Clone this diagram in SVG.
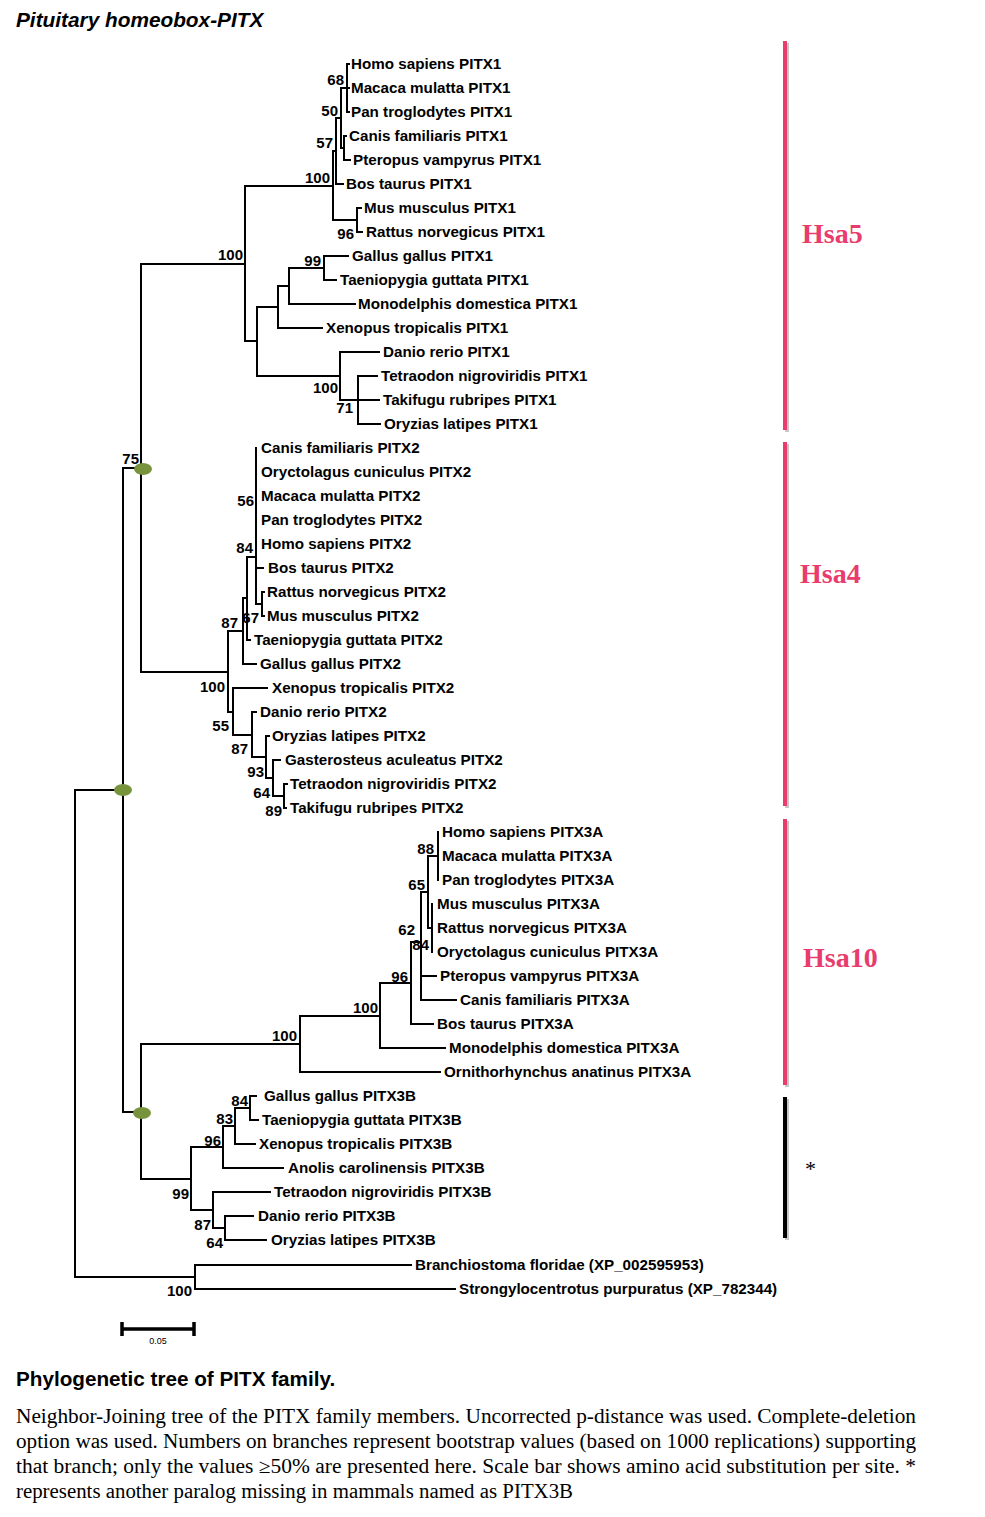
<svg xmlns="http://www.w3.org/2000/svg" width="985" height="1517" viewBox="0 0 985 1517">
<style>
.leaf{font-family:"Liberation Sans",Arial,sans-serif;font-weight:bold;font-size:15.2px;fill:#000}
.bs{font-family:"Liberation Sans",Arial,sans-serif;font-weight:bold;font-size:15px;fill:#000;text-anchor:end}
.br{fill:none;stroke:#000;stroke-width:2;stroke-linecap:square}
.sc{fill:none;stroke:#000;stroke-width:3.5}
.hsa{font-family:"Liberation Serif","Times New Roman",serif;font-weight:bold;font-size:28px;fill:#e83c6c}
.bar{fill:#e83c6c}
.shadow{fill:#c8c8c8}
.dot{fill:#77933c}
.cap{font-family:"Liberation Serif","Times New Roman",serif;font-size:20px;fill:#000}
</style>
<rect width="985" height="1517" fill="#fff"/>
<text x="16" y="27" font-family="Liberation Sans, Arial, sans-serif" font-weight="bold" font-style="italic" font-size="20.8">Pituitary homeobox-PITX</text>

<g id="connectors">
<path class="br" d="M347 64V112M347 64H349M347 88H349M347 112H349M341 88H347M344 136V160M344 136H346M344 160H350M341 148H344M341 88V148M336 118H341M336 118V184M336 184H343M333 151H336M333 151V220M333 220H357M357 208V232M357 208H361M357 232H362M245 186H333M324 256V280M324 256H348M324 280H336M289 268H324M289 268V304M289 304H355M278 286H289M278 286V328M278 328H322M257 307H278M358 376V424M358 376H377M358 400H379M358 424H380M340 400H358M340 352V400M340 352H379M257 376H340M257 307V376M245 341H257M245 186V341M141 264H245"/>
<path class="br" d="M256 448V604M256 568H263M256 604H262M262 592V616M262 592H264M262 616H264M247 557H256M247 557V640M247 640H250M243 598H247M243 598V664M243 664H256M228 631H243M228 631V712M284 784V808M284 784H287M284 808H286M273 796H284M273 760V796M273 760H280M266 778H273M266 736V778M266 736H269M252 757H266M252 712V757M252 712H256M233 735H252M233 688V735M233 688H267M228 712H233M141 672H228M141 264V672"/>
<path class="br" d="M123 468V1112M123 468H141M75 790H123M75 790V1277M75 1277H195M195 1265V1289M195 1265H411M195 1289H455M123 1112H141M141 1044V1179"/>
<path class="br" d="M438 832V880M428 856H438M428 856V928M428 928H432M432 904V952M421 892H428M421 892V1000M421 976H436M421 1000H456M411 942H421M411 942V1024M411 1024H433M380 983H411M380 983V1048M380 1048H445M300 1016H380M300 1016V1072M300 1072H440M141 1044H300"/>
<path class="br" d="M250 1096V1120M250 1096H256M250 1120H258M235 1108H250M235 1108V1144M235 1144H255M223 1126H235M223 1126V1168M223 1168H283M191 1147H223M191 1147V1210M225 1216V1240M225 1216H253M225 1240H266M213 1228H225M213 1192V1228M213 1192H270M191 1210H213M141 1179H191"/>
</g>

<g id="node-dots">
<ellipse class="dot" cx="143" cy="469" rx="9" ry="6"/>
<ellipse class="dot" cx="123" cy="790" rx="9" ry="6"/>
<ellipse class="dot" cx="142" cy="1113" rx="9" ry="6"/>
</g>

<g id="bootstrap">
<text class="bs" x="344" y="85">68</text>
<text class="bs" x="338" y="116">50</text>
<text class="bs" x="333" y="148">57</text>
<text class="bs" x="330" y="183">100</text>
<text class="bs" x="354" y="239">96</text>
<text class="bs" x="243" y="260">100</text>
<text class="bs" x="321" y="266">99</text>
<text class="bs" x="338" y="393">100</text>
<text class="bs" x="353" y="413">71</text>
<text class="bs" x="139" y="464">75</text>
<text class="bs" x="254" y="506">56</text>
<text class="bs" x="253" y="553">84</text>
<text class="bs" x="259" y="623">67</text>
<text class="bs" x="238" y="628">87</text>
<text class="bs" x="225" y="692">100</text>
<text class="bs" x="229" y="731">55</text>
<text class="bs" x="248" y="754">87</text>
<text class="bs" x="264" y="777">93</text>
<text class="bs" x="270" y="798">64</text>
<text class="bs" x="282" y="816">89</text>
<text class="bs" x="434" y="854">88</text>
<text class="bs" x="425" y="890">65</text>
<text class="bs" x="415" y="935">62</text>
<text class="bs" x="429" y="950">84</text>
<text class="bs" x="408" y="982">96</text>
<text class="bs" x="378" y="1013">100</text>
<text class="bs" x="297" y="1041">100</text>
<text class="bs" x="248" y="1106">84</text>
<text class="bs" x="233" y="1124">83</text>
<text class="bs" x="221" y="1146">96</text>
<text class="bs" x="189" y="1199">99</text>
<text class="bs" x="211" y="1230">87</text>
<text class="bs" x="223" y="1248">64</text>
<text class="bs" x="192" y="1296">100</text>
</g>

<g id="leaf-pitx1-homo"><text class="leaf" x="351" y="69">Homo sapiens PITX1</text></g>
<g id="leaf-pitx1-macaca"><text class="leaf" x="351" y="93">Macaca mulatta PITX1</text></g>
<g id="leaf-pitx1-pan"><text class="leaf" x="351" y="117">Pan troglodytes PITX1</text></g>
<g id="leaf-pitx1-canis"><text class="leaf" x="349" y="141">Canis familiaris PITX1</text></g>
<g id="leaf-pitx1-pteropus"><text class="leaf" x="353" y="165">Pteropus vampyrus PITX1</text></g>
<g id="leaf-pitx1-bos"><text class="leaf" x="346" y="189">Bos taurus PITX1</text></g>
<g id="leaf-pitx1-mus"><text class="leaf" x="364" y="213">Mus musculus PITX1</text></g>
<g id="leaf-pitx1-rattus"><text class="leaf" x="366" y="237">Rattus norvegicus PITX1</text></g>
<g id="leaf-pitx1-gallus"><text class="leaf" x="352" y="261">Gallus gallus PITX1</text></g>
<g id="leaf-pitx1-taeniopygia"><text class="leaf" x="340" y="285">Taeniopygia guttata PITX1</text></g>
<g id="leaf-pitx1-monodelphis"><text class="leaf" x="358" y="309">Monodelphis domestica PITX1</text></g>
<g id="leaf-pitx1-xenopus"><text class="leaf" x="326" y="333">Xenopus tropicalis PITX1</text></g>
<g id="leaf-pitx1-danio"><text class="leaf" x="383" y="357">Danio rerio PITX1</text></g>
<g id="leaf-pitx1-tetraodon"><text class="leaf" x="381" y="381">Tetraodon nigroviridis PITX1</text></g>
<g id="leaf-pitx1-takifugu"><text class="leaf" x="383" y="405">Takifugu rubripes PITX1</text></g>
<g id="leaf-pitx1-oryzias"><text class="leaf" x="384" y="429">Oryzias latipes PITX1</text></g>

<g id="leaf-pitx2-canis"><text class="leaf" x="261" y="453">Canis familiaris PITX2</text></g>
<g id="leaf-pitx2-oryctolagus"><text class="leaf" x="261" y="477">Oryctolagus cuniculus PITX2</text></g>
<g id="leaf-pitx2-macaca"><text class="leaf" x="261" y="501">Macaca mulatta PITX2</text></g>
<g id="leaf-pitx2-pan"><text class="leaf" x="261" y="525">Pan troglodytes PITX2</text></g>
<g id="leaf-pitx2-homo"><text class="leaf" x="261" y="549">Homo sapiens PITX2</text></g>
<g id="leaf-pitx2-bos"><text class="leaf" x="268" y="573">Bos taurus PITX2</text></g>
<g id="leaf-pitx2-rattus"><text class="leaf" x="267" y="597">Rattus norvegicus PITX2</text></g>
<g id="leaf-pitx2-mus"><text class="leaf" x="267" y="621">Mus musculus PITX2</text></g>
<g id="leaf-pitx2-taeniopygia"><text class="leaf" x="254" y="645">Taeniopygia guttata PITX2</text></g>
<g id="leaf-pitx2-gallus"><text class="leaf" x="260" y="669">Gallus gallus PITX2</text></g>
<g id="leaf-pitx2-xenopus"><text class="leaf" x="272" y="693">Xenopus tropicalis PITX2</text></g>
<g id="leaf-pitx2-danio"><text class="leaf" x="260" y="717">Danio rerio PITX2</text></g>
<g id="leaf-pitx2-oryzias"><text class="leaf" x="272" y="741">Oryzias latipes PITX2</text></g>
<g id="leaf-pitx2-gasterosteus"><text class="leaf" x="285" y="765">Gasterosteus aculeatus PITX2</text></g>
<g id="leaf-pitx2-tetraodon"><text class="leaf" x="290" y="789">Tetraodon nigroviridis PITX2</text></g>
<g id="leaf-pitx2-takifugu"><text class="leaf" x="290" y="813">Takifugu rubripes PITX2</text></g>

<g id="leaf-pitx3a-homo"><text class="leaf" x="442" y="837">Homo sapiens PITX3A</text></g>
<g id="leaf-pitx3a-macaca"><text class="leaf" x="442" y="861">Macaca mulatta PITX3A</text></g>
<g id="leaf-pitx3a-pan"><text class="leaf" x="442" y="885">Pan troglodytes PITX3A</text></g>
<g id="leaf-pitx3a-mus"><text class="leaf" x="437" y="909">Mus musculus PITX3A</text></g>
<g id="leaf-pitx3a-rattus"><text class="leaf" x="437" y="933">Rattus norvegicus PITX3A</text></g>
<g id="leaf-pitx3a-oryctolagus"><text class="leaf" x="437" y="957">Oryctolagus cuniculus PITX3A</text></g>
<g id="leaf-pitx3a-pteropus"><text class="leaf" x="440" y="981">Pteropus vampyrus PITX3A</text></g>
<g id="leaf-pitx3a-canis"><text class="leaf" x="460" y="1005">Canis familiaris PITX3A</text></g>
<g id="leaf-pitx3a-bos"><text class="leaf" x="437" y="1029">Bos taurus PITX3A</text></g>
<g id="leaf-pitx3a-monodelphis"><text class="leaf" x="449" y="1053">Monodelphis domestica PITX3A</text></g>
<g id="leaf-pitx3a-ornithorhynchus"><text class="leaf" x="444" y="1077">Ornithorhynchus anatinus PITX3A</text></g>

<g id="leaf-pitx3b-gallus"><text class="leaf" x="264" y="1101">Gallus gallus PITX3B</text></g>
<g id="leaf-pitx3b-taeniopygia"><text class="leaf" x="262" y="1125">Taeniopygia guttata PITX3B</text></g>
<g id="leaf-pitx3b-xenopus"><text class="leaf" x="259" y="1149">Xenopus tropicalis PITX3B</text></g>
<g id="leaf-pitx3b-anolis"><text class="leaf" x="288" y="1173">Anolis carolinensis PITX3B</text></g>
<g id="leaf-pitx3b-tetraodon"><text class="leaf" x="274" y="1197">Tetraodon nigroviridis PITX3B</text></g>
<g id="leaf-pitx3b-danio"><text class="leaf" x="258" y="1221">Danio rerio PITX3B</text></g>
<g id="leaf-pitx3b-oryzias"><text class="leaf" x="271" y="1245">Oryzias latipes PITX3B</text></g>

<g id="leaf-branchiostoma"><text class="leaf" x="415" y="1270">Branchiostoma floridae (XP_002595953)</text></g>
<g id="leaf-strongylocentrotus"><text class="leaf" x="459" y="1294">Strongylocentrotus purpuratus (XP_782344)</text></g>

<g id="group-hsa5">
<rect class="shadow" x="785" y="43" width="4" height="389"/>
<rect class="bar" x="783" y="41" width="4" height="389"/>
<text class="hsa" x="802" y="243">Hsa5</text>
</g>
<g id="group-hsa4">
<rect class="shadow" x="785" y="444" width="4" height="364"/>
<rect class="bar" x="783" y="442" width="4" height="364"/>
<text class="hsa" x="800" y="583">Hsa4</text>
</g>
<g id="group-hsa10">
<rect class="shadow" x="785" y="821" width="4" height="266"/>
<rect class="bar" x="783" y="819" width="4" height="266"/>
<text class="hsa" x="803" y="967">Hsa10</text>
</g>
<g id="group-pitx3b">
<rect class="shadow" x="785" y="1099" width="4" height="141"/>
<rect x="783" y="1097" width="4" height="141" fill="#000"/>
<text x="805" y="1176" font-family="Liberation Serif, Times New Roman, serif" font-size="22">*</text>
</g>

<g id="scale-bar">
<path class="sc" d="M121 1329H195M122 1322V1336M194 1322V1336"/>
<text x="158" y="1344" font-family="Liberation Sans, Arial, sans-serif" font-size="9" text-anchor="middle">0.05</text>
</g>

<g id="caption">
<text x="16" y="1386" font-family="Liberation Sans, Arial, sans-serif" font-weight="bold" font-size="20.7">Phylogenetic tree of PITX family.</text>
<text class="cap" x="16" y="1423" textLength="900" lengthAdjust="spacingAndGlyphs">Neighbor-Joining tree of the PITX family members. Uncorrected p-distance was used. Complete-deletion</text>
<text class="cap" x="16" y="1448" textLength="900" lengthAdjust="spacingAndGlyphs">option was used. Numbers on branches represent bootstrap values (based on 1000 replications) supporting</text>
<text class="cap" x="16" y="1473" textLength="900" lengthAdjust="spacingAndGlyphs">that branch; only the values ≥50% are presented here. Scale bar shows amino acid substitution per site. *</text>
<text class="cap" x="16" y="1498" textLength="557" lengthAdjust="spacingAndGlyphs">represents another paralog missing in mammals named as PITX3B</text>
</g>
</svg>
